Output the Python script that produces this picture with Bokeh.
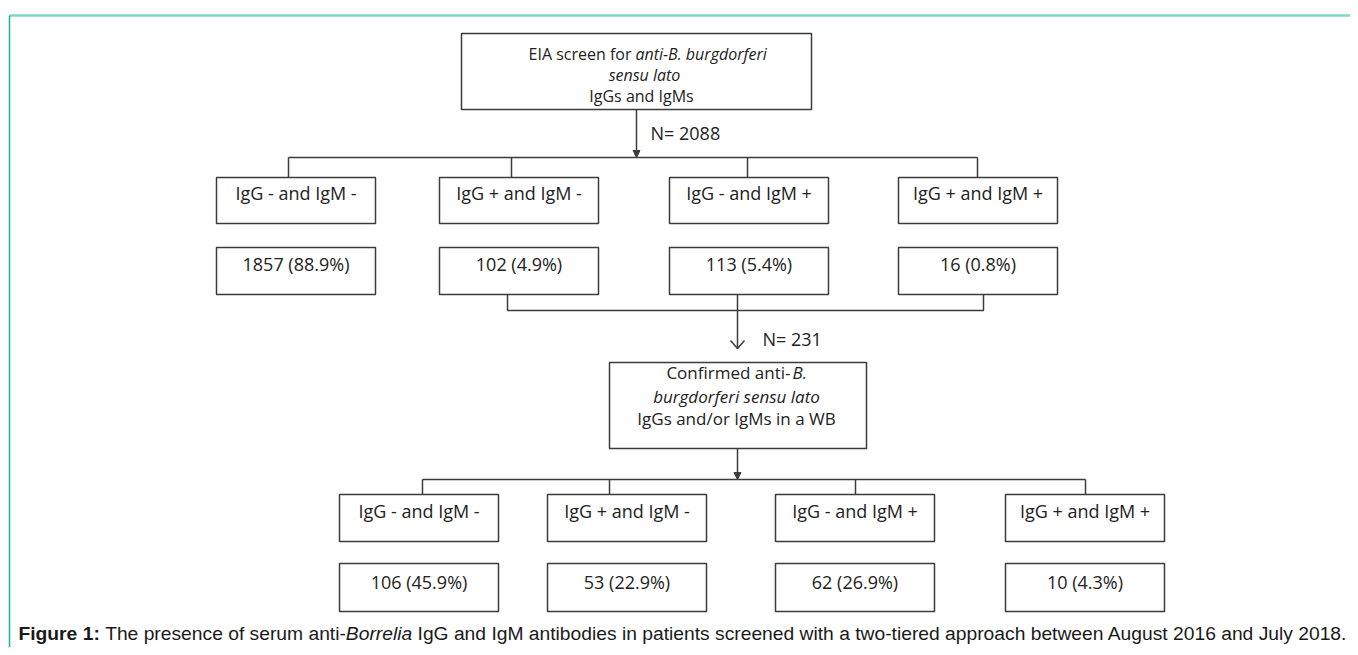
from bokeh.plotting import figure
from bokeh.models import Range1d
from bokeh.core.properties import value
from bokeh.embed import file_html
from bokeh.resources import INLINE

# ---------------- data ----------------
screen_line1 = ["EIA screen for", "anti-B. burgdorferi"]
screen_line2 = "sensu lato"
screen_line3 = "IgGs and IgMs"
n_screened = 2088
categories = ["IgG - and IgM -", "IgG + and IgM -", "IgG - and IgM +", "IgG + and IgM +"]
eia_counts = [1857, 102, 113, 16]
eia_pct = [88.9, 4.9, 5.4, 0.8]
n_confirmed = 231
confirm_line1 = ["Confirmed anti-", "B."]
confirm_line2 = "burgdorferi sensu lato"
confirm_line3 = "IgGs and/or IgMs in a WB"
wb_counts = [106, 53, 62, 10]
wb_pct = [45.9, 22.9, 26.9, 4.3]
caption_parts = [("Figure 1:", "bold"),
                 ("The presence of serum anti-", "normal"),
                 ("Borrelia", "italic"),
                 ("IgG and IgM antibodies in patients screened with a two-tiered approach between August 2016 and July 2018.", "normal")]
caption_space_before = [False, True, False, True]

# ---------------- layout ----------------
W, H = 1350, 647
p = figure(width=W, height=H, x_range=Range1d(0, W), y_range=Range1d(H, 0),
           output_backend="svg", toolbar_location=None, min_border=0)
p.axis.visible = False
p.xgrid.visible = False
p.ygrid.visible = False
p.outline_line_color = None
p.background_fill_color = "white"
p.border_fill_color = "white"

FONT = value("Open Sans")
TXT = "#222222"
LINE = "#3c3c3c"

# page frame
p.segment(x0=[9], y0=[15], x1=[W], y1=[15], line_color="#7fd7cb", line_width=2.5)
p.segment(x0=[9], y0=[15], x1=[9], y1=[H], line_color="#20b09a", line_width=1.5)

def boxes(lefts, width, top, bottom):
    p.quad(left=lefts, right=[l + width for l in lefts], top=[top] * len(lefts),
           bottom=[bottom] * len(lefts), fill_color="white", line_color=LINE, line_width=1.5)

def txt(xs, ys, texts, size, align="center", style="normal"):
    p.text(x=xs, y=ys, text=texts, text_font=FONT, text_font_size=size, text_align=align,
           text_baseline="middle", text_color=TXT, text_font_style=style)

def filled_arrow(x, tip_y):
    p.patch(x=[x - 3.5, x + 3.5, x], y=[tip_y - 7, tip_y - 7, tip_y], fill_color=LINE,
            line_color=LINE, line_width=1)

# ----- top box -----
boxes([461], 350, 33, 109)
txt([631], [53], [screen_line1[0]], "16px", "right")
txt([635], [53], [screen_line1[1]], "16px", "left", "italic")
txt([644], [74], [screen_line2], "16px", "center", "italic")
txt([641], [95], [screen_line3], "16px")

# arrow to first tree
p.segment(x0=[636], y0=[109], x1=[636], y1=[155], line_color=LINE, line_width=1.5)
filled_arrow(636, 157)
txt([650], [132], [f"N= {n_screened}"], "18px", "left")

# first tree
top_ticks = [288, 511, 747, 977]
p.segment(x0=[top_ticks[0]], y0=[157], x1=[top_ticks[-1]], y1=[157], line_color=LINE, line_width=1.5)
p.segment(x0=top_ticks, y0=[157] * 4, x1=top_ticks, y1=[177] * 4, line_color=LINE, line_width=1.5)

eia_lefts = [216, 439, 669, 898]
BW = 159
boxes(eia_lefts, BW, 177, 223)
boxes(eia_lefts, BW, 247, 294)
cx1 = [l + BW / 2 for l in eia_lefts]
txt(cx1, [192] * 4, categories, "18px")
txt(cx1, [263] * 4, [f"{c} ({v}%)" for c, v in zip(eia_counts, eia_pct)], "18px")

# bracket joining positives
p.multi_line(xs=[[507, 507, 983, 983], [737, 737]], ys=[[294, 310, 310, 294], [294, 348]],
             line_color=LINE, line_width=1.5)
p.multi_line(xs=[[730, 737, 744]], ys=[[340, 348, 340]], line_color=LINE, line_width=1.5)
txt([762], [338], [f"N= {n_confirmed}"], "18px", "left")

# confirmed box
boxes([609], 257, 362, 448)
txt([790], [372], [confirm_line1[0]], "17px", "right")
txt([792], [372], [confirm_line1[1]], "17px", "left", "italic")
txt([736], [396], [confirm_line2], "17px", "center", "italic")
txt([736], [418], [confirm_line3], "17px")

# arrow to second tree
p.segment(x0=[737], y0=[448], x1=[737], y1=[477], line_color=LINE, line_width=1.5)
filled_arrow(737, 479)

bot_ticks = [422, 609, 855, 1085]
p.segment(x0=[bot_ticks[0]], y0=[479], x1=[bot_ticks[-1]], y1=[479], line_color=LINE, line_width=1.5)
p.segment(x0=bot_ticks, y0=[479] * 4, x1=bot_ticks, y1=[494] * 4, line_color=LINE, line_width=1.5)

wb_lefts = [339, 547, 775, 1005]
boxes(wb_lefts, BW, 494, 541)
boxes(wb_lefts, BW, 563, 611)
cx2 = [l + BW / 2 for l in wb_lefts]
txt(cx2, [510] * 4, categories, "18px")
txt(cx2, [581] * 4, [f"{c} ({v}%)" for c, v in zip(wb_counts, wb_pct)], "18px")

# ----- caption -----
ARIAL = {' ': 278, 'a': 556, 'b': 556, 'c': 500, 'd': 556, 'e': 556, 'f': 278, 'g': 556, 'h': 556,
         'i': 222, 'j': 222, 'k': 500, 'l': 222, 'm': 833, 'n': 556, 'o': 556, 'p': 556, 'q': 556,
         'r': 333, 's': 500, 't': 278, 'u': 556, 'v': 500, 'w': 722, 'x': 500, 'y': 500, 'z': 500,
         'A': 667, 'B': 667, 'F': 611, 'G': 778, 'I': 278, 'J': 500, 'M': 833, 'T': 611,
         ':': 278, '-': 333, '.': 278}
ARIAL_B = {'F': 611, 'i': 278, 'g': 611, 'u': 611, 'r': 389, 'e': 556, ' ': 278, ':': 333}
CFS = 19.25

def width(t, bold=False):
    tot = 0
    for ch in t:
        if ch.isdigit():
            tot += 556
        elif bold and ch in ARIAL_B:
            tot += ARIAL_B[ch]
        else:
            tot += ARIAL.get(ch, 556)
    return tot / 1000 * CFS

cx = 18
for (t, st), sp in zip(caption_parts, caption_space_before):
    if sp:
        cx += width(" ")
    p.text(x=[cx], y=[633], text=[t], text_font=value("Liberation Sans"), text_font_size=f"{CFS}px",
           text_align="left", text_baseline="middle", text_color="#1a1a1a", text_font_style=st)
    cx += width(t, st == "bold")

open("out.html", "w").write(file_html(p, INLINE))
